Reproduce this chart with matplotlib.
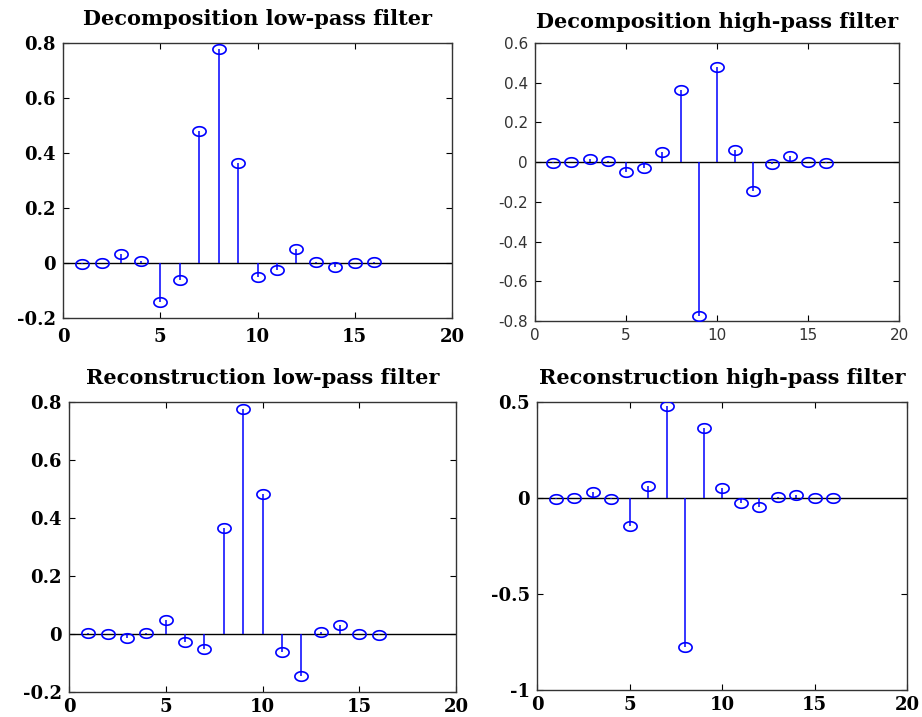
import numpy as np
import matplotlib
matplotlib.use("Agg")
import matplotlib.pyplot as plt
from matplotlib.path import Path

n = list(range(1, 17))
dec_lo = [-0.0034, -0.0005, 0.0317, 0.0076, -0.1433, -0.0613, 0.4814, 0.7772,
          0.3644, -0.0519, -0.0272, 0.0491, 0.0038, -0.0150, -0.0003, 0.0019]
dec_hi = [-0.0019, -0.0003, 0.0150, 0.0038, -0.0491, -0.0272, 0.0519, 0.3644,
          -0.7772, 0.4814, 0.0613, -0.1433, -0.0076, 0.0317, 0.0005, -0.0034]
rec_lo = [0.0019, -0.0003, -0.0150, 0.0038, 0.0491, -0.0272, -0.0519, 0.3644,
          0.7772, 0.4814, -0.0613, -0.1433, 0.0076, 0.0317, -0.0005, -0.0034]
rec_hi = [-0.0034, 0.0005, 0.0317, -0.0076, -0.1433, 0.0613, 0.4814, -0.7772,
          0.3644, 0.0519, -0.0272, -0.0491, 0.0038, 0.0150, -0.0003, -0.0019]

titles = ["Decomposition low-pass filter", "Decomposition high-pass filter",
          "Reconstruction low-pass filter", "Reconstruction high-pass filter"]
ylims = [(-0.2, 0.8), (-0.8, 0.6), (-0.2, 0.8), (-1.0, 0.5)]
yticks = [[-0.2, 0, 0.2, 0.4, 0.6, 0.8],
          [-0.8, -0.6, -0.4, -0.2, 0, 0.2, 0.4, 0.6],
          [-0.2, 0, 0.2, 0.4, 0.6, 0.8],
          [-1, -0.5, 0, 0.5]]
ytlabels = [["-0.2", "0", "0.2", "0.4", "0.6", "0.8"],
            ["-0.8", "-0.6", "-0.4", "-0.2", "0", "0.2", "0.4", "0.6"],
            ["-0.2", "0", "0.2", "0.4", "0.6", "0.8"],
            ["-1", "-0.5", "0", "0.5"]]
xticks = [0, 5, 10, 15, 20]
series = [dec_lo, dec_hi, rec_lo, rec_hi]

W, H = 922, 717
# axes boxes in pixels: left, top, right, bottom
boxes = [(63, 43, 452, 318), (535, 43, 899, 321),
         (69, 402, 456, 692), (537, 402, 907, 690)]
title_pads = [13, 11, 13, 13]
xpads = [7, 5, 4, 4]

t = np.linspace(0, 2 * np.pi, 60)
ell = Path(np.column_stack([np.cos(t), 0.72 * np.sin(t)]), closed=True)

fig = plt.figure(figsize=(W / 100, H / 100), dpi=100)
for i in range(4):
    l, tp, r, b = boxes[i]
    ax = fig.add_axes([l / W, 1 - b / H, (r - l) / W, (b - tp) / H])
    y = series[i]
    ax.vlines(n, 0, y, color="#0000ff", lw=1.1, zorder=2)
    ax.plot(n, y, linestyle="none", marker=ell, markersize=9.5,
            markerfacecolor="none", markeredgecolor="#0000ff", mew=1.2, zorder=3)
    ax.axhline(0, color="black", lw=1.0, zorder=1)
    ax.set_xlim(0, 20)
    ax.set_ylim(*ylims[i])
    ax.set_xticks(xticks)
    ax.set_yticks(yticks[i])
    ax.set_yticklabels(ytlabels[i])
    ax.tick_params(direction="in", top=True, right=True, length=4, width=0.8)
    ax.tick_params(axis="x", pad=xpads[i])
    ax.tick_params(axis="y", pad=5)
    if i == 1:
        for lab in ax.get_xticklabels() + ax.get_yticklabels():
            lab.set_fontfamily("DejaVu Sans")
            lab.set_fontsize(11)
            lab.set_color("#333333")
    else:
        for lab in ax.get_xticklabels() + ax.get_yticklabels():
            lab.set_fontfamily("DejaVu Serif")
            lab.set_fontweight("bold")
            lab.set_fontsize(13)
    ax.set_title(titles[i], fontfamily="DejaVu Serif", fontweight="bold",
                 fontsize=15, pad=title_pads[i])
    for s in ax.spines.values():
        s.set_linewidth(1.0)
        s.set_color("#333333")

fig.savefig("out.png", dpi=100)
